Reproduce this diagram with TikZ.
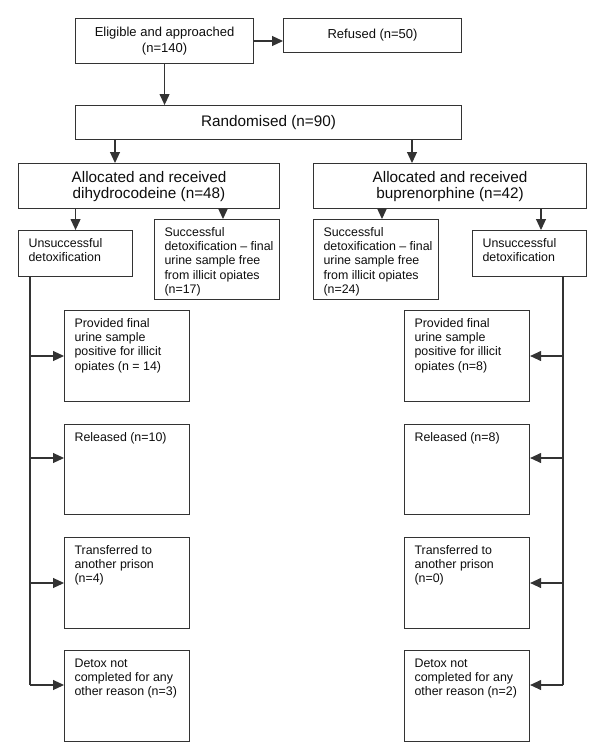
\documentclass[tikz,border=0pt]{standalone}
\usepackage{fontspec}
\setmainfont{Liberation Sans}
\usetikzlibrary{arrows.meta}
\definecolor{lc}{gray}{0.2}
\definecolor{tc}{gray}{0.05}
\newcommand{\sbt}[3]{\parbox[t][#2][t]{#1}{\vspace*{8pt}\raggedright\leftskip=10pt #3}}
\begin{document}
\begin{tikzpicture}[x=1pt,y=-1pt,
  box/.style={draw=lc, line width=1.1pt, inner sep=0pt, anchor=north west, text=tc},
  sb/.style={box, font=\fontsize{12.4}{14.2}\selectfont},
  cb/.style={box, align=center},
  ln/.style={draw=lc, line width=1.1pt},
  arr/.style={ln, -{Triangle[length=11pt,width=10pt]}}]
\useasboundingbox (0,0) rectangle (600,755);
% top
\node[cb, minimum width=178pt, minimum height=45pt, font=\fontsize{13}{16}\selectfont] (elig) at (75,18) {Eligible and approached\\(n=140)};
\node[cb, minimum width=178pt, minimum height=34pt, font=\fontsize{13}{16}\selectfont] (ref) at (283,18) {Refused (n=50)};
\node[cb, minimum width=386pt, minimum height=34pt, font=\fontsize{15.3}{17}\selectfont] (rand) at (75,105) {Randomised (n=90)};
\node[cb, minimum width=261pt, minimum height=45pt, font=\fontsize{15.3}{16}\selectfont] (alD) at (18,163) {Allocated and received\\dihydrocodeine (n=48)};
\node[cb, minimum width=273pt, minimum height=45pt, font=\fontsize{15.3}{16}\selectfont] (alB) at (313,163) {Allocated and received\\buprenorphine (n=42)};
% second level
\node[sb] (unsD) at (18,230) {\sbt{114pt}{46pt}{Unsuccessful\\detoxification}};
\node[sb] (sucD) at (154,219) {\sbt{125pt}{80pt}{Successful\\detoxification -- final\\urine sample free\\from illicit opiates\\(n=17)}};
\node[sb] (sucB) at (313,219) {\sbt{125pt}{80pt}{Successful\\detoxification -- final\\urine sample free\\from illicit opiates\\(n=24)}};
\node[sb] (unsB) at (472,230) {\sbt{114pt}{46pt}{Unsuccessful\\detoxification}};
% outcome boxes left
\node[sb] (pD) at (64,310) {\sbt{125pt}{91pt}{Provided final\\urine sample\\positive for illicit\\opiates (n = 14)}};
\node[sb] (rD) at (64,424) {\sbt{125pt}{90pt}{Released (n=10)}};
\node[sb] (tD) at (64,537) {\sbt{125pt}{91pt}{Transferred to\\another prison\\(n=4)}};
\node[sb] (dD) at (64,650) {\sbt{125pt}{91pt}{Detox not\\completed for any\\other reason (n=3)}};
% outcome boxes right
\node[sb] (pB) at (404,310) {\sbt{125pt}{91pt}{Provided final\\urine sample\\positive for illicit\\opiates (n=8)}};
\node[sb] (rB) at (404,424) {\sbt{125pt}{90pt}{Released (n=8)}};
\node[sb] (tB) at (404,537) {\sbt{125pt}{91pt}{Transferred to\\another prison\\(n=0)}};
\node[sb] (dB) at (404,650) {\sbt{125pt}{91pt}{Detox not\\completed for any\\other reason (n=2)}};
% connectors top
\draw[arr] (elig.east |- 0,41) -- (ref.west |- 0,41);
\draw[arr] (elig.south) -- (elig.south |- rand.north);
\draw[arr] (115,0 |- rand.south) -- (115,0 |- alD.north);
\draw[arr] (412,0 |- rand.south) -- (412,0 |- alB.north);
\draw[arr] (unsD.north |- alD.south) -- (unsD.north);
\draw[arr] (223,0 |- alD.south) -- (223,0 |- sucD.north);
\draw[arr] (382,0 |- alB.south) -- (382,0 |- sucB.north);
\draw[arr] (541,0 |- alB.south) -- (541,0 |- unsB.north);
% left trunk
\coordinate (lt) at (30,685);
\draw[ln] (lt |- unsD.south) -- (lt);
\draw[arr] (30,356) -- (pD.west |- 0,356);
\draw[arr] (30,458) -- (rD.west |- 0,458);
\draw[arr] (30,583) -- (tD.west |- 0,583);
\draw[arr] (lt) -- (dD.west |- lt);
% right trunk
\coordinate (rt) at (563,685);
\draw[ln] (rt |- unsB.south) -- (rt);
\draw[arr] (563,356) -- (pB.east |- 0,356);
\draw[arr] (563,458) -- (rB.east |- 0,458);
\draw[arr] (563,583) -- (tB.east |- 0,583);
\draw[arr] (rt) -- (dB.east |- rt);
\end{tikzpicture}
\end{document}
